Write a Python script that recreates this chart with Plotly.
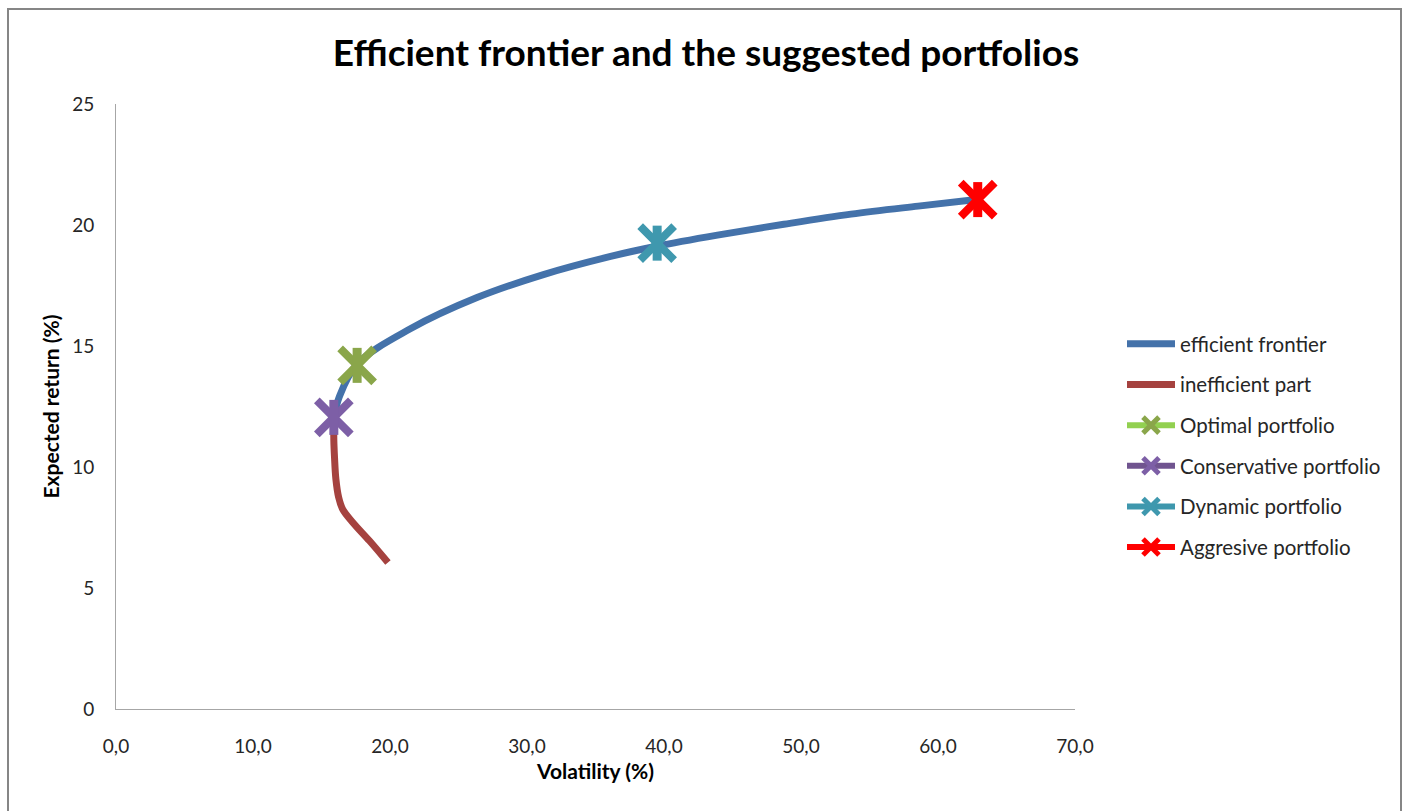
import plotly.graph_objects as go

# Efficient frontier (volatility %, expected return %)
frontier_vol = [15.9, 16.3, 17.6, 21.45, 26.35, 31.2, 36.1, 39.45, 43.9, 48.75, 53.65, 58.55, 62.8]
frontier_ret = [12.0, 12.9, 14.25, 15.7, 17.0, 17.95, 18.7, 19.12, 19.58, 20.03, 20.45, 20.78, 21.05]

# Lower, inefficient branch of the minimum-variance curve
ineff_vol = [15.9, 15.9, 15.95, 16.05, 16.25, 16.55, 17.3, 18.5, 19.85]
ineff_ret = [12.0, 11.1, 10.4, 9.5, 8.75, 8.25, 7.7, 6.95, 6.05]

# Suggested portfolios
portfolio_names = ["Optimal portfolio", "Conservative portfolio", "Dynamic portfolio", "Aggresive portfolio"]
portfolio_vol = [17.6, 15.9, 39.5, 62.9]
portfolio_ret = [14.2, 12.05, 19.25, 21.05]
marker_colors = ["#8AA64A", "#7D5FA6", "#3F98AE", "#FF0000"]
legend_line_colors = ["#92D050", "#70548F", "#3E97AD", "#FF0000"]

x_ticks = [0, 10, 20, 30, 40, 50, 60, 70]
x_tick_text = ["0,0", "10,0", "20,0", "30,0", "40,0", "50,0", "60,0", "70,0"]
y_ticks = [0, 5, 10, 15, 20, 25]

FONT = "Lato"
W, H = 1406, 811
L, R, T, B = 116, 1075, 104, 709

fig = go.Figure()

fig.add_trace(go.Scatter(
    x=frontier_vol, y=frontier_ret, mode="lines", name="efficient frontier",
    line=dict(color="#4472AA", width=7, shape="spline", smoothing=1.0),
    legendgroup="g1",
))
fig.add_trace(go.Scatter(
    x=ineff_vol, y=ineff_ret, mode="lines", name="inefficient part",
    line=dict(color="#A5423F", width=7, shape="spline", smoothing=1.0),
    legendgroup="g2",
))

for i, name in enumerate(portfolio_names):
    # X part of the star marker (with legend entry)
    fig.add_trace(go.Scatter(
        x=[portfolio_vol[i]], y=[portfolio_ret[i]], mode="lines+markers", name=name,
        line=dict(color=legend_line_colors[i], width=6),
        marker=dict(symbol="x-thin-open", size=34, color=marker_colors[i],
                    line=dict(color=marker_colors[i], width=8)),
        legendgroup=f"p{i}",
    ))
    # vertical bar of the star marker
    fig.add_trace(go.Scatter(
        x=[portfolio_vol[i]], y=[portfolio_ret[i]], mode="markers", showlegend=False,
        marker=dict(symbol="line-ns-open", size=25, color=marker_colors[i],
                    line=dict(color=marker_colors[i], width=9)),
        legendgroup=f"p{i}", hoverinfo="skip",
    ))

def px_x(p):
    return (p - L) / (R - L)

def px_y(p):
    return (B - p) / (B - T)

fig.add_shape(type="rect", xref="paper", yref="paper",
              x0=px_x(8), x1=px_x(1401), y0=px_y(840), y1=px_y(9),
              line=dict(color="#868686", width=2), fillcolor="rgba(0,0,0,0)", layer="below")

fig.update_layout(
    width=W, height=H, autosize=False,
    margin=dict(l=L, r=W - R, t=T, b=H - B),
    paper_bgcolor="white", plot_bgcolor="white",
    font=dict(family=FONT, color="#262626"),
    title=dict(text="<b>Efficient frontier and the suggested portfolios</b>",
               font=dict(family=FONT, size=37, color="black"),
               x=706 / W, xref="container", xanchor="center",
               y=1 - 53 / H, yref="container", yanchor="middle"),
    showlegend=True,
    legend=dict(x=px_x(1122), xanchor="left", y=px_y(324), yanchor="top",
                font=dict(family=FONT, size=20.5, color="#262626"),
                tracegroupgap=11, traceorder="grouped", itemwidth=48,
                bgcolor="rgba(0,0,0,0)"),
    xaxis=dict(range=[0, 70], tickvals=x_ticks, ticktext=x_tick_text,
               showgrid=False, zeroline=False, showline=True, linecolor="#A6A6A6", linewidth=1,
               ticks="", ticklabelstandoff=20, tickfont=dict(size=19, family=FONT, color="#262626"),
               title=dict(text="<b>Volatility (%)</b>", font=dict(size=21, family=FONT, color="black"),
                          standoff=8)),
    yaxis=dict(range=[0, 25], tickvals=y_ticks,
               showgrid=False, zeroline=False, showline=True, linecolor="#A6A6A6", linewidth=1,
               ticks="", ticklabelstandoff=17, tickfont=dict(size=19, family=FONT, color="#262626"),
               title=dict(text="<b>Expected return (%)</b>", font=dict(size=21, family=FONT, color="black"),
                          standoff=6)),
)

fig.write_html("out.html")
